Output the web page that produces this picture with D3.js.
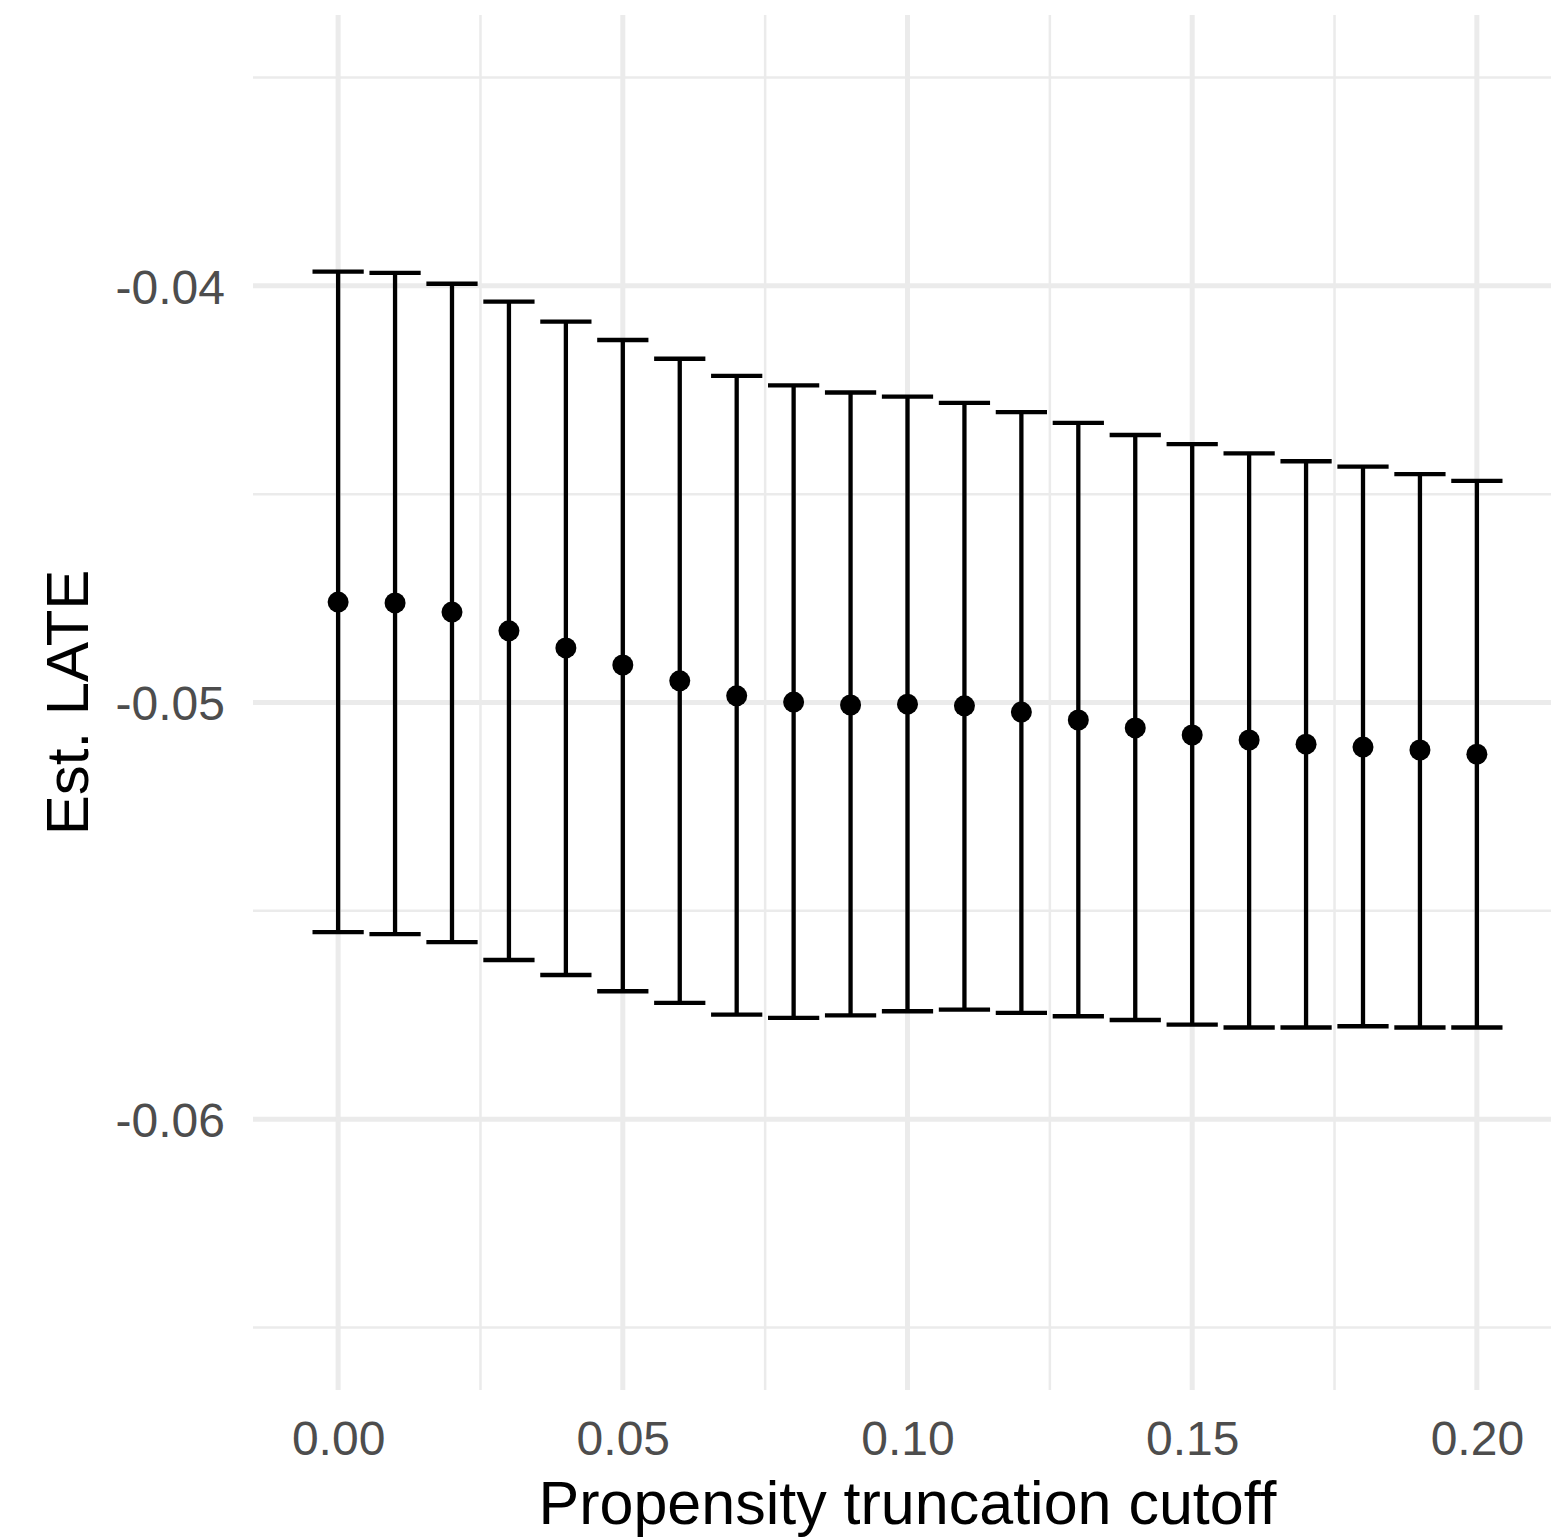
<!DOCTYPE html>
<html>
<head>
<meta charset="utf-8">
<script src="https://cdn.jsdelivr.net/npm/d3@7"></script>
<style>
  body { margin: 0; background: #fff; }
  svg { display: block; font-family: "Liberation Sans", Arial, sans-serif; }
</style>
</head>
<body>
<script>
// truncation cutoffs
var cutoff = [0.00, 0.01, 0.02, 0.03, 0.04, 0.05, 0.06, 0.07, 0.08, 0.09, 0.10,
              0.11, 0.12, 0.13, 0.14, 0.15, 0.16, 0.17, 0.18, 0.19, 0.20];
// point estimate of LATE
var est = [-0.04759, -0.04761, -0.04783, -0.04828, -0.04869, -0.04910, -0.04948,
           -0.04984, -0.04999, -0.05006, -0.05004, -0.05008, -0.05023, -0.05042,
           -0.05061, -0.05078, -0.05090, -0.05100, -0.05107, -0.05114, -0.05124];
// upper CI bound
var upper = [-0.03966, -0.03969, -0.03995, -0.04038, -0.04086, -0.04130, -0.04175,
             -0.04216, -0.04239, -0.04256, -0.04266, -0.04281, -0.04303, -0.04329,
             -0.04358, -0.04380, -0.04402, -0.04421, -0.04434, -0.04452, -0.04468];
// lower CI bound
var lower = [-0.05551, -0.05556, -0.05575, -0.05618, -0.05654, -0.05693, -0.05721,
             -0.05749, -0.05757, -0.05751, -0.05741, -0.05737, -0.05745, -0.05753,
             -0.05762, -0.05773, -0.05780, -0.05780, -0.05777, -0.05780, -0.05780];

var xTicks = [0, 0.05, 0.10, 0.15, 0.20];
var xMinor = [0.025, 0.075, 0.125, 0.175];
var yTicks = [-0.04, -0.05, -0.06];
var yMinor = [-0.035, -0.045, -0.055, -0.065];

var data = cutoff.map(function (c, i) {
  return { x: c, est: est[i], lo: lower[i], hi: upper[i] };
});

var W = 1551, H = 1539;
var pLeft = 253, pRight = 1562, pTop = 15, pBottom = 1390;

var x = d3.scaleLinear().domain([-0.01495, 0.21495]).range([pLeft, pRight]);
var y = d3.scaleLinear().domain([-0.0665, -0.0335]).range([pBottom, pTop]);

var svg = d3.select("body").append("svg")
  .attr("width", W)
  .attr("height", H);

var grid = svg.append("g");

// minor grid
grid.selectAll(".ymin").data(yMinor).enter().append("line")
  .attr("x1", pLeft).attr("x2", pRight)
  .attr("y1", function (d) { return y(d); }).attr("y2", function (d) { return y(d); })
  .attr("stroke", "#ebebeb").attr("stroke-width", 2.5);
grid.selectAll(".xmin").data(xMinor).enter().append("line")
  .attr("y1", pTop).attr("y2", pBottom)
  .attr("x1", function (d) { return x(d); }).attr("x2", function (d) { return x(d); })
  .attr("stroke", "#ebebeb").attr("stroke-width", 2.5);

// major grid
grid.selectAll(".ymaj").data(yTicks).enter().append("line")
  .attr("x1", pLeft).attr("x2", pRight)
  .attr("y1", function (d) { return y(d); }).attr("y2", function (d) { return y(d); })
  .attr("stroke", "#ebebeb").attr("stroke-width", 5);
grid.selectAll(".xmaj").data(xTicks).enter().append("line")
  .attr("y1", pTop).attr("y2", pBottom)
  .attr("x1", function (d) { return x(d); }).attr("x2", function (d) { return x(d); })
  .attr("stroke", "#ebebeb").attr("stroke-width", 5);

// axes (labels only)
var xAxis = d3.axisBottom(x).tickValues(xTicks).tickSize(0).tickPadding(0)
  .tickFormat(d3.format(".2f"));
var gx = svg.append("g")
  .attr("transform", "translate(0," + pBottom + ")")
  .call(xAxis);
gx.select(".domain").remove();
gx.selectAll("text")
  .attr("dy", null).attr("y", 65)
  .style("font-size", "48px").style("fill", "#4d4d4d")
  .style("font-family", "'Liberation Sans', Arial, sans-serif");

var yAxis = d3.axisLeft(y).tickValues(yTicks).tickSize(0).tickPadding(0)
  .tickFormat(function (d) { return d3.format(".2f")(d).replace("\u2212", "-"); });
var gy = svg.append("g")
  .attr("transform", "translate(" + pLeft + ",0)")
  .call(yAxis);
gy.select(".domain").remove();
gy.selectAll("text")
  .attr("x", -28).attr("dy", "0.36em")
  .style("font-size", "48px").style("fill", "#4d4d4d")
  .style("font-family", "'Liberation Sans', Arial, sans-serif");

// error bars
var capHalf = 0.0045;
var bars = svg.append("g").attr("stroke", "#000").attr("stroke-width", 4.3);
bars.selectAll(".v").data(data).enter().append("line")
  .attr("x1", function (d) { return x(d.x); }).attr("x2", function (d) { return x(d.x); })
  .attr("y1", function (d) { return y(d.hi); }).attr("y2", function (d) { return y(d.lo); });
bars.selectAll(".t").data(data).enter().append("line")
  .attr("x1", function (d) { return x(d.x - capHalf); }).attr("x2", function (d) { return x(d.x + capHalf); })
  .attr("y1", function (d) { return y(d.hi); }).attr("y2", function (d) { return y(d.hi); });
bars.selectAll(".b").data(data).enter().append("line")
  .attr("x1", function (d) { return x(d.x - capHalf); }).attr("x2", function (d) { return x(d.x + capHalf); })
  .attr("y1", function (d) { return y(d.lo); }).attr("y2", function (d) { return y(d.lo); });

// points
svg.append("g").selectAll("circle").data(data).enter().append("circle")
  .attr("cx", function (d) { return x(d.x); })
  .attr("cy", function (d) { return y(d.est); })
  .attr("r", 10.5)
  .attr("fill", "#000");

// titles
svg.append("text")
  .attr("x", (pLeft + pRight) / 2).attr("y", 1524)
  .attr("text-anchor", "middle")
  .style("font-size", "61px").style("fill", "#000")
  .text("Propensity truncation cutoff");

svg.append("text")
  .attr("transform", "translate(88," + ((pTop + pBottom) / 2) + ") rotate(-90)")
  .attr("text-anchor", "middle")
  .style("font-size", "60px").style("fill", "#000")
  .text("Est. LATE");
</script>
</body>
</html>
